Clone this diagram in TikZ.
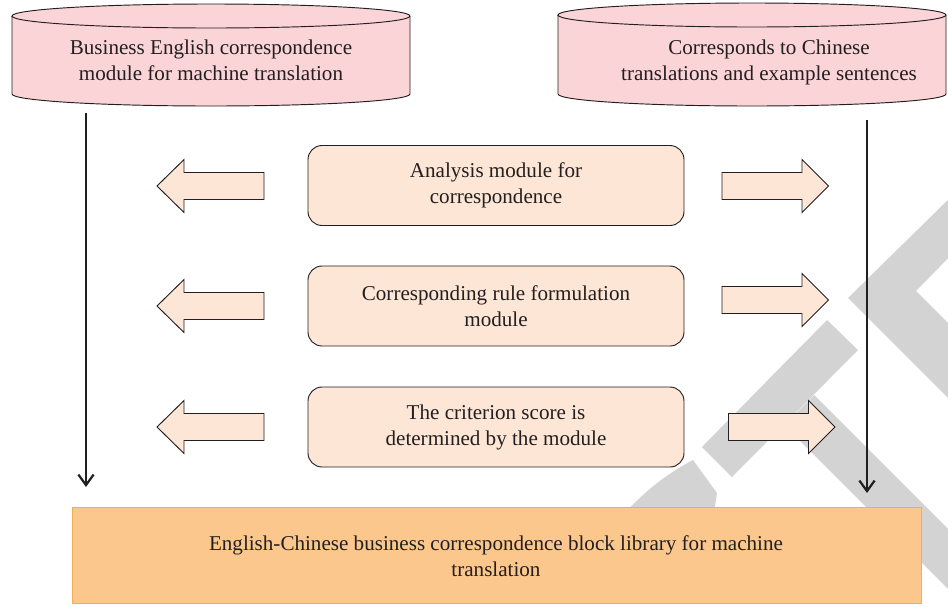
\documentclass[tikz,border=0pt]{standalone}
\usepackage{fontspec}
\setmainfont{Liberation Serif}
\usetikzlibrary{arrows.meta}
\definecolor{cylpink}{RGB}{250,212,215}
\definecolor{peach}{RGB}{253,230,214}
\definecolor{libfill}{RGB}{251,199,141}
\definecolor{libline}{RGB}{247,172,80}
\definecolor{ink}{RGB}{35,31,32}
\definecolor{wmark}{RGB}{211,211,211}
\tikzset{
  cylshape/.style={draw=ink, fill=cylpink, line width=0.8pt},
  cylfront/.style={draw=ink, line width=0.8pt},
  txt/.style={text=ink, align=center, font=\fontsize{18}{22.2}\selectfont, inner sep=0pt},
  midbox/.style={draw=ink, fill=peach, line width=0.8pt, rounded corners=12pt,
    minimum width=11.28cm, minimum height=2.4cm, inner sep=0pt},
  libbox/.style={draw=libline, fill=libfill, line width=0.8pt,
    minimum width=25.47cm, minimum height=2.88cm, inner sep=0pt},
  blockarrow/.style={draw=ink, fill=peach, line width=0.8pt, line join=miter},
  varrow/.style={draw=ink, line width=2.2pt, -{Straight Barb[length=9pt,width=13pt,line width=1.9pt]}},
  wm/.style={fill=wmark, draw=none},
  pics/larrow/.style={code={
    \filldraw[blockarrow] (-53.5,0) -- (-26.5,-26.5) -- (-26.5,-13.5) -- (53.5,-13.5)
      -- (53.5,13.5) -- (-26.5,13.5) -- (-26.5,26.5) -- cycle;}},
  pics/rarrow/.style={code={
    \filldraw[blockarrow] (53.25,0) -- (26.75,-26.5) -- (26.75,-13.5) -- (-53.25,-13.5)
      -- (-53.25,13.5) -- (26.75,13.5) -- (26.75,26.5) -- cycle;}}
}
\begin{document}
\begin{tikzpicture}[x=0.03cm, y=-0.03cm]
\useasboundingbox (0,0) rectangle (948,606);
% watermark
\fill[wm] (960,188) -- (848,298) -- (960,410) -- (960,335) -- (916,291) -- (960,246) -- cycle;
\fill[wm] (827,320) -- (858,350) -- (732,477) -- (702,447) -- cycle;
\fill[wm] (814,395) -- (784,425) -- (960,601) -- (990,571) -- cycle;
\fill[wm] (693,460) -- (717,493) -- (714,512) -- (626,512) .. controls (648,488) and (670,472) .. (693,460) -- cycle;
% cylinders
\path[cylshape] (12,16) -- (12,94) arc[start angle=180,end angle=360,x radius=5.97cm,y radius=0.36cm]
  -- (410,16) arc[start angle=0,end angle=180,x radius=5.97cm,y radius=0.36cm] -- cycle;
\draw[cylfront] (12,16) arc[start angle=180,end angle=360,x radius=5.97cm,y radius=0.36cm];
\node[txt] (c1) at (211,60) {Business English correspondence\\module for machine translation};
\path[cylshape] (558,15) -- (558,94) arc[start angle=180,end angle=360,x radius=5.82cm,y radius=0.36cm]
  -- (946,15) arc[start angle=0,end angle=180,x radius=5.82cm,y radius=0.36cm] -- cycle;
\draw[cylfront] (558,15) arc[start angle=180,end angle=360,x radius=5.82cm,y radius=0.36cm];
\node[txt] (c2) at (769,62) {Corresponds to Chinese\\translations and example sentences};
% middle boxes
\node[midbox] (b1) at (496,185.5) {};
\node[txt] (t1) at (b1) {Analysis module for\\correspondence};
\node[midbox] (b2) at (496,306) {};
\node[txt] (t2) at (b2) {Corresponding rule formulation\\module};
\node[midbox] (b3) at (496,427) {};
\node[txt] (t3) at (b3) {The criterion score is\\determined by the module};
% block arrows
\pic (la1) at (210.5,186) {larrow};
\pic (la2) at (210.5,306) {larrow};
\pic (la3) at (210.5,427) {larrow};
\pic (ra1) at (775.25,186) {rarrow};
\pic (ra2) at (775.25,300) {rarrow};
\pic (ra3) at (781.75,427) {rarrow};
% bottom library box
\node[libbox] (lib) at (496.5,555) {};
\node[txt] (tl) at (496,556) {English-Chinese business correspondence block library for machine\\translation};
% vertical arrows
\coordinate (l1) at (86,113);
\coordinate (l2) at (86,487);
\coordinate (r1) at (867,120);
\coordinate (r2) at (867,493);
\draw[varrow] (l1) -- (l2);
\draw[varrow] (r1) -- (r2);
\end{tikzpicture}
\end{document}
